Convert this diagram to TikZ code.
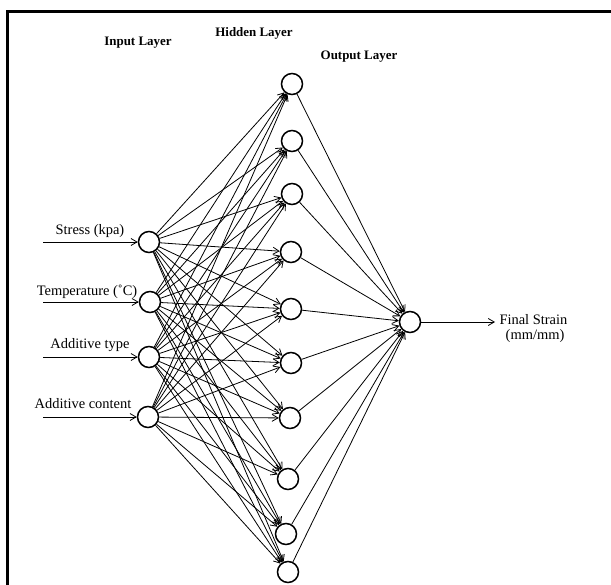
\documentclass[tikz,border=0pt]{standalone}
\usepackage{fontspec}
\setmainfont{Liberation Serif}
\usetikzlibrary{arrows.meta}
\begin{document}
\begin{tikzpicture}[x=1bp,y=-1bp,
  neuron/.style={circle,draw,line width=1.5bp,minimum size=21bp,inner sep=0pt},
  conn/.style={line width=0.8bp,-{Straight Barb[length=6bp,width=7bp,line width=0.8bp]}},
  title/.style={font=\fontsize{13}{15}\selectfont\bfseries,anchor=base},
  lab/.style={font=\fontsize{14.5}{16}\selectfont,anchor=base},
  frame/.style={line width=2.6bp}]
\useasboundingbox (0,0) rectangle (611,585);
\draw[frame] (7.3,585) -- (7.3,11.3) -- (611,11.3);
% titles
\node[title] (tin) at (138,46) {Input Layer};
\node[title] (thid) at (254,37) {Hidden Layer};
\node[title] (tout) at (359,60) {Output Layer};
% input nodes
\node[neuron] (i1) at (149,242) {};
\node[neuron] (i2) at (150,302) {};
\node[neuron] (i3) at (149,357) {};
\node[neuron] (i4) at (148,417) {};
% hidden nodes
\node[neuron] (h1) at (292,84) {};
\node[neuron] (h2) at (292,141) {};
\node[neuron] (h3) at (292,194) {};
\node[neuron] (h4) at (291,252) {};
\node[neuron] (h5) at (291,309) {};
\node[neuron] (h6) at (291,363) {};
\node[neuron] (h7) at (290,418) {};
\node[neuron] (h8) at (288,479) {};
\node[neuron] (h9) at (286,534) {};
\node[neuron] (h10) at (288,572) {};
% output
\node[neuron] (o) at (410,322) {};
% input arrows
\coordinate (s1) at (43,242);
\coordinate (s2) at (43,302);
\coordinate (s3) at (43,357);
\coordinate (s4) at (43,417);
\foreach \k in {1,...,4} \draw[conn] (s\k) -- (i\k);
\node[lab] (l1) at (90,234.5) {Stress (kpa)};
\node[lab] (l2) at (87,295) {Temperature (˚C)};
\node[lab] (l3) at (90,348) {Additive type};
\node[lab] (l4) at (83,408) {Additive content};
% connections
\foreach \a in {1,...,4}
  \foreach \b in {1,...,10}
    \draw[conn] (i\a) -- (h\b);
\foreach \b in {1,...,10}
  \draw[conn] (h\b) -- (o);
\coordinate (fe) at (495,322);
\draw[conn] (o) -- (fe);
\node[lab,anchor=base west] (fs) at (496,324) {Final Strain};
\node[lab] (fmm) at (535,339) {(mm/mm)};
\end{tikzpicture}
\end{document}
